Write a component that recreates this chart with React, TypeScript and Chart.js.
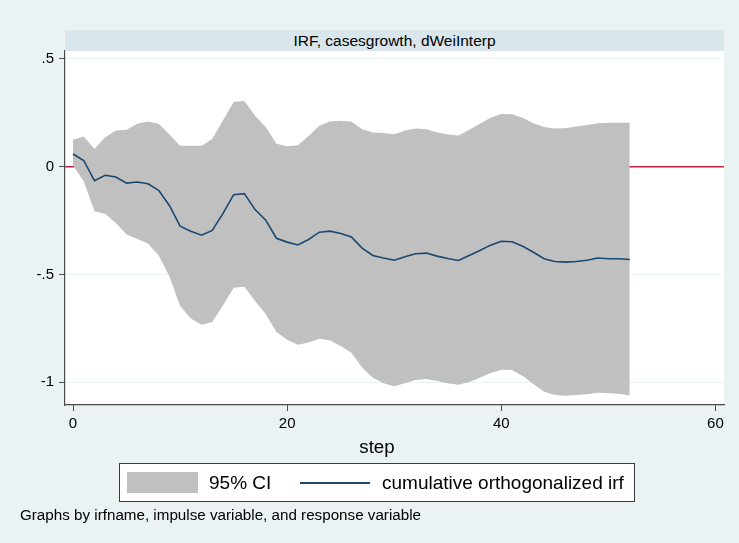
import React, { useEffect, useRef } from "react";
import { Chart, registerables } from "chart.js";

Chart.register(...registerables);

const steps: number[] = Array.from({ length: 53 }, (_, i) => i);

const ciUpper: number[] = [
  0.125, 0.14, 0.082, 0.137, 0.168, 0.171, 0.199, 0.21, 0.199, 0.15,
  0.097, 0.097, 0.097, 0.128, 0.214, 0.3, 0.305, 0.236, 0.184, 0.106,
  0.095, 0.1, 0.143, 0.19, 0.21, 0.213, 0.21, 0.174, 0.159, 0.156,
  0.151, 0.168, 0.177, 0.174, 0.159, 0.15, 0.145, 0.171, 0.199, 0.227,
  0.245, 0.244, 0.227, 0.202, 0.184, 0.177, 0.179, 0.187, 0.193, 0.202,
  0.204, 0.204, 0.204,
];

const ciLower: number[] = [
  0.005, -0.068, -0.207, -0.218, -0.261, -0.315, -0.335, -0.357, -0.412, -0.508,
  -0.647, -0.705, -0.733, -0.721, -0.644, -0.562, -0.557, -0.623, -0.685, -0.767,
  -0.803, -0.826, -0.816, -0.798, -0.807, -0.832, -0.863, -0.932, -0.98, -1.005,
  -1.019, -1.005, -0.99, -0.985, -0.995, -1.005, -1.012, -0.999, -0.98, -0.958,
  -0.942, -0.944, -0.971, -1.009, -1.045, -1.06, -1.063, -1.06, -1.056, -1.049,
  -1.052, -1.054, -1.062,
];

const irf: number[] = [
  0.059, 0.029, -0.065, -0.04, -0.048, -0.076, -0.071, -0.079, -0.11, -0.18,
  -0.276, -0.3, -0.318, -0.296, -0.218, -0.13, -0.125, -0.199, -0.248, -0.332,
  -0.35, -0.363, -0.338, -0.304, -0.299, -0.31, -0.326, -0.378, -0.412, -0.424,
  -0.434, -0.418, -0.404, -0.401, -0.415, -0.426, -0.435, -0.412, -0.389, -0.364,
  -0.346, -0.348, -0.369, -0.397, -0.427, -0.44, -0.443, -0.44, -0.434, -0.424,
  -0.427, -0.427, -0.431,
];

const xTicks: number[] = [0, 20, 40, 60];
const yTicks: number[] = [-1, -0.5, 0, 0.5];

const titleText = "IRF, casesgrowth, dWeiInterp";
const xTitle = "step";
const legendCI = "95% CI";
const legendIRF = "cumulative orthogonalized irf";
const noteText = "Graphs by irfname, impulse variable, and response variable";

const FONT = "'Liberation Sans', Arial, Helvetica, sans-serif";
const OUTER_BG = "#eaf2f3";
const STRIP_BG = "#d9e6eb";
const CI_COLOR = "#c0c0c0";
const IRF_COLOR = "#1a476f";
const ZERO_COLOR = "#c8203f";
const AXIS_COLOR = "#4a4a4a";

function fmtY(v: number): string {
  if (v === 0) return "0";
  const s = String(Math.abs(v)).replace(/^0/, "");
  return (v < 0 ? "-" : "") + s;
}

const bgPlugin = {
  id: "bgPlugin",
  beforeDraw(chart: any) {
    const { ctx, chartArea } = chart;
    ctx.save();
    ctx.fillStyle = OUTER_BG;
    ctx.fillRect(0, 0, chart.width, chart.height);
    ctx.fillStyle = "#ffffff";
    ctx.fillRect(chartArea.left, chartArea.top, chartArea.right - chartArea.left, chartArea.bottom - chartArea.top);
    ctx.restore();
  },
  beforeDatasetsDraw(chart: any) {
    const { ctx, chartArea, scales } = chart;
    const y = scales.y.getPixelForValue(0);
    ctx.save();
    ctx.strokeStyle = ZERO_COLOR;
    ctx.lineWidth = 1.6;
    ctx.beginPath();
    ctx.moveTo(chartArea.left, y);
    ctx.lineTo(chartArea.right, y);
    ctx.stroke();
    ctx.restore();
  },
};

export default function App() {
  const canvasRef = useRef<HTMLCanvasElement | null>(null);

  useEffect(() => {
    const canvas = canvasRef.current;
    if (!canvas) return;
    const upperPts = steps.map((s, i) => ({ x: s, y: ciUpper[i] }));
    const lowerPts = steps.map((s, i) => ({ x: s, y: ciLower[i] }));
    const irfPts = steps.map((s, i) => ({ x: s, y: irf[i] }));

    const chart = new Chart(canvas, {
      type: "line",
      data: {
        datasets: [
          {
            label: "upper",
            data: upperPts,
            borderWidth: 0,
            borderColor: CI_COLOR,
            backgroundColor: CI_COLOR,
            pointRadius: 0,
            fill: "+1",
            order: 2,
          },
          {
            label: legendCI,
            data: lowerPts,
            borderWidth: 0,
            borderColor: CI_COLOR,
            backgroundColor: CI_COLOR,
            pointRadius: 0,
            fill: false,
            order: 2,
          },
          {
            label: legendIRF,
            data: irfPts,
            borderWidth: 1.6,
            borderColor: IRF_COLOR,
            backgroundColor: IRF_COLOR,
            pointRadius: 0,
            fill: false,
            order: 1,
          },
        ],
      },
      options: {
        animation: false,
        responsive: false,
        devicePixelRatio: 1,
        layout: { padding: { top: 51, right: 15, left: 0, bottom: 0 } },
        plugins: {
          legend: { display: false },
          title: { display: false },
          tooltip: { enabled: false },
        },
        scales: {
          x: {
            type: "linear",
            min: -0.75,
            max: 60.8,
            afterFit: (scale: any) => {
              scale.height = 138;
            },
            afterBuildTicks: (scale: any) => {
              scale.ticks = xTicks.map((v) => ({ value: v }));
            },
            ticks: {
              color: "#000",
              font: { family: FONT, size: 15 },
              padding: 4,
              maxRotation: 0,
              autoSkip: false,
              callback: (v: any) => String(v),
            },
            grid: {
              drawOnChartArea: false,
              drawTicks: true,
              tickLength: 6,
              tickColor: AXIS_COLOR,
              tickWidth: 1,
            },
            border: { display: true, color: AXIS_COLOR, width: 1.2 },
            title: { display: false },
          },
          y: {
            type: "linear",
            min: -1.106,
            max: 0.537,
            afterFit: (scale: any) => {
              scale.width = 65;
            },
            afterBuildTicks: (scale: any) => {
              scale.ticks = yTicks.map((v) => ({ value: v }));
            },
            ticks: {
              color: "#000",
              font: { family: FONT, size: 15 },
              padding: 5,
              autoSkip: false,
              callback: (v: any) => fmtY(Number(v)),
            },
            grid: {
              color: OUTER_BG,
              lineWidth: 1,
              drawTicks: true,
              tickLength: 6,
              tickColor: AXIS_COLOR,
              tickWidth: 1,
            },
            border: { display: true, color: AXIS_COLOR, width: 1.2 },
          },
        },
      },
      plugins: [bgPlugin],
    } as any);

    return () => {
      chart.destroy();
    };
  }, []);

  return (
    <div
      style={{
        position: "fixed",
        left: 0,
        top: 0,
        width: 739,
        height: 543,
        background: OUTER_BG,
        fontFamily: FONT,
        overflow: "hidden",
      }}
    >
      <canvas ref={canvasRef} width={739} height={543} style={{ position: "absolute", left: 0, top: 0, width: 739, height: 543 }} />
      <div
        style={{
          position: "absolute",
          left: 65,
          top: 30,
          width: 659,
          height: 21,
          background: STRIP_BG,
          color: "#000",
          fontSize: 15.5,
          lineHeight: "21px",
          textAlign: "center",
          whiteSpace: "nowrap",
        }}
      >
        {titleText}
      </div>
      <div
        style={{
          position: "absolute",
          left: 277,
          top: 436,
          width: 200,
          height: 22,
          lineHeight: "22px",
          fontSize: 18.7,
          color: "#000",
          textAlign: "center",
          whiteSpace: "nowrap",
        }}
      >
        {xTitle}
      </div>
      <div
        style={{
          position: "absolute",
          left: 119,
          top: 463,
          width: 516,
          height: 39,
          boxSizing: "border-box",
          border: "1px solid #3a3a3a",
          background: "#ffffff",
        }}
      >
        <div style={{ position: "absolute", left: 7, top: 8, width: 71, height: 21, background: CI_COLOR }} />
        <div style={{ position: "absolute", left: 89, top: 0, height: 37, lineHeight: "37px", fontSize: 19, color: "#000", whiteSpace: "nowrap" }}>
          {legendCI}
        </div>
        <div style={{ position: "absolute", left: 180, top: 18, width: 70, height: 1.6, background: IRF_COLOR }} />
        <div style={{ position: "absolute", left: 262, top: 0, height: 37, lineHeight: "37px", fontSize: 19, color: "#000", whiteSpace: "nowrap" }}>
          {legendIRF}
        </div>
      </div>
      <div
        style={{
          position: "absolute",
          left: 20,
          top: 506,
          height: 18,
          lineHeight: "18px",
          fontSize: 15.2,
          color: "#000",
          whiteSpace: "nowrap",
        }}
      >
        {noteText}
      </div>
    </div>
  );
}
